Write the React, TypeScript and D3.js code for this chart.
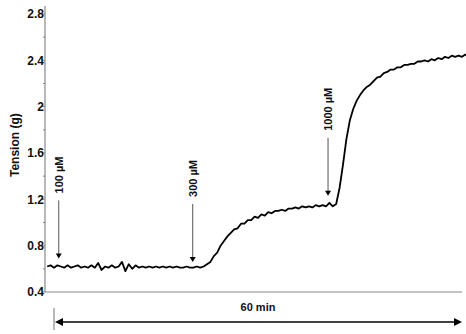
import React from "react";
import * as d3 from "d3";

// Trace sampled every 0.5 min starting at t = -1 min
const TRACE_START = -1;
const TRACE_STEP = 0.5;
const tension: number[] = [
  // baseline (t -1 .. 21.5)
  0.62, 0.63, 0.61, 0.63, 0.62, 0.61, 0.63, 0.61, 0.62, 0.63,
  0.61, 0.62, 0.61, 0.63, 0.61, 0.65, 0.59, 0.62, 0.61, 0.63,
  0.61, 0.62, 0.66, 0.58, 0.64, 0.60, 0.63, 0.61, 0.62, 0.61,
  0.62, 0.61, 0.62, 0.61, 0.62, 0.61, 0.62, 0.61, 0.62, 0.61,
  0.61, 0.62, 0.61, 0.61, 0.62, 0.61,
  // 300 µM response (t 22 .. 41.5)
  0.62, 0.64, 0.66, 0.71, 0.74, 0.80, 0.84, 0.88, 0.91, 0.94,
  0.95, 0.99, 0.99, 1.02, 1.02, 1.05, 1.04, 1.07, 1.06, 1.09,
  1.08, 1.10, 1.10, 1.11, 1.10, 1.12, 1.12, 1.13, 1.12, 1.14,
  1.13, 1.14, 1.13, 1.15, 1.14, 1.15, 1.14, 1.17, 1.14, 1.16,
  // 1000 µM response (t 42 .. 60)
  1.30, 1.50, 1.72, 1.88, 1.98, 2.05, 2.10, 2.14, 2.17, 2.19,
  2.22, 2.25, 2.26, 2.29, 2.30, 2.32, 2.32, 2.34, 2.34, 2.36,
  2.36, 2.37, 2.37, 2.39, 2.39, 2.40, 2.39, 2.41, 2.40, 2.42,
  2.41, 2.43, 2.42, 2.44, 2.43, 2.44, 2.43, 2.45, 2.44,
];

const yTicks = [0.4, 0.8, 1.2, 1.6, 2.0, 2.4, 2.8];
const yTickLabels = ["0.4", "0.8", "1.2", "1.6", "2", "2.4", "2.8"];
const yMinorTicks = [0.6, 1.0, 1.4, 1.8, 2.2, 2.6];

const additionTimes = [0.7, 20.4, 40.3];
const additionTipValues = [0.69, 0.66, 1.23];
const additionLabels = ["100 µM", "300 µM", "1000 µM"];

const durationLabel = "60 min";
const durationMinutes = 60;
const yLabel = "Tension (g)";

const FONT = "Liberation Sans, Arial, Helvetica, sans-serif";

export default function App() {
  const W = 466;
  const H = 334;
  const x = d3.scaleLinear().domain([0, 60]).range([54, 462]);
  const y = d3.scaleLinear().domain([0.4, 2.8]).range([292, 14]);
  const axisX = 45;
  const axisRight = 462;

  const pts: [number, number][] = tension.map((v, i) => [
    x(TRACE_START + i * TRACE_STEP),
    y(v),
  ]);
  const line = d3.line<[number, number]>().x((d) => d[0]).y((d) => d[1]);

  const arrowY = 322;
  const x0 = x(0);
  const x1 = x(durationMinutes);

  return (
    <svg
      width={W}
      height={H}
      style={{ position: "absolute", left: 0, top: 0, background: "#fff" }}
      fontFamily={FONT}
    >
      {/* axes */}
      <line x1={axisX} x2={axisX} y1={6} y2={y(0.4)} stroke="#888" strokeWidth={1.2} />
      <line x1={axisX} x2={axisRight} y1={y(0.4)} y2={y(0.4)} stroke="#888" strokeWidth={1.2} />
      {yTicks.map((t, i) => (
        <g key={"t" + i}>
          <line x1={axisX - 3} x2={axisX} y1={y(t)} y2={y(t)} stroke="#888" strokeWidth={1} />
          <text
            x={axisX - 1}
            y={y(t)}
            dy="0.35em"
            textAnchor="end"
            fontSize={12}
            fontWeight="bold"
            fill="#111"
          >
            {yTickLabels[i]}
          </text>
        </g>
      ))}
      {yMinorTicks.map((t, i) => (
        <line key={"m" + i} x1={axisX - 2} x2={axisX} y1={y(t)} y2={y(t)} stroke="#888" strokeWidth={1} />
      ))}
      <text
        transform={`translate(19,${(y(1.6) + y(1.2)) / 2 - 31}) rotate(-90)`}
        textAnchor="middle"
        fontSize={12}
        fontWeight="bold"
        fill="#111"
      >
        {yLabel}
      </text>

      {/* trace */}
      <path d={line(pts) || ""} fill="none" stroke="#000" strokeWidth={1.8} strokeLinejoin="round" />

      {/* addition markers */}
      {additionTimes.map((t, i) => {
        const ax = x(t);
        const tip = y(additionTipValues[i]);
        const top = tip - 58;
        return (
          <g key={"a" + i}>
            <line x1={ax} x2={ax} y1={top} y2={tip - 4} stroke="#555" strokeWidth={1} />
            <path d={`M${ax - 3},${tip - 5} L${ax + 3},${tip - 5} L${ax},${tip} Z`} fill="#000" />
            <text
              transform={`translate(${ax + 4},${top - 7}) rotate(-90)`}
              textAnchor="start"
              fontSize={11}
              fontWeight="bold"
              fill="#111"
            >
              {additionLabels[i]}
            </text>
          </g>
        );
      })}

      {/* duration bar */}
      <line x1={x0} x2={x0} y1={308} y2={330} stroke="#888" strokeWidth={1.2} />
      <line x1={x0 + 6} x2={x1 - 6} y1={arrowY} y2={arrowY} stroke="#000" strokeWidth={1.6} />
      <path d={`M${x0 + 1},${arrowY} L${x0 + 9},${arrowY - 4} L${x0 + 9},${arrowY + 4} Z`} fill="#000" />
      <path d={`M${x1},${arrowY} L${x1 - 8},${arrowY - 4} L${x1 - 8},${arrowY + 4} Z`} fill="#000" />
      <text
        x={(x0 + x1) / 2}
        y={311}
        textAnchor="middle"
        fontSize={11}
        fontWeight="bold"
        fill="#111"
      >
        {durationLabel}
      </text>
    </svg>
  );
}
